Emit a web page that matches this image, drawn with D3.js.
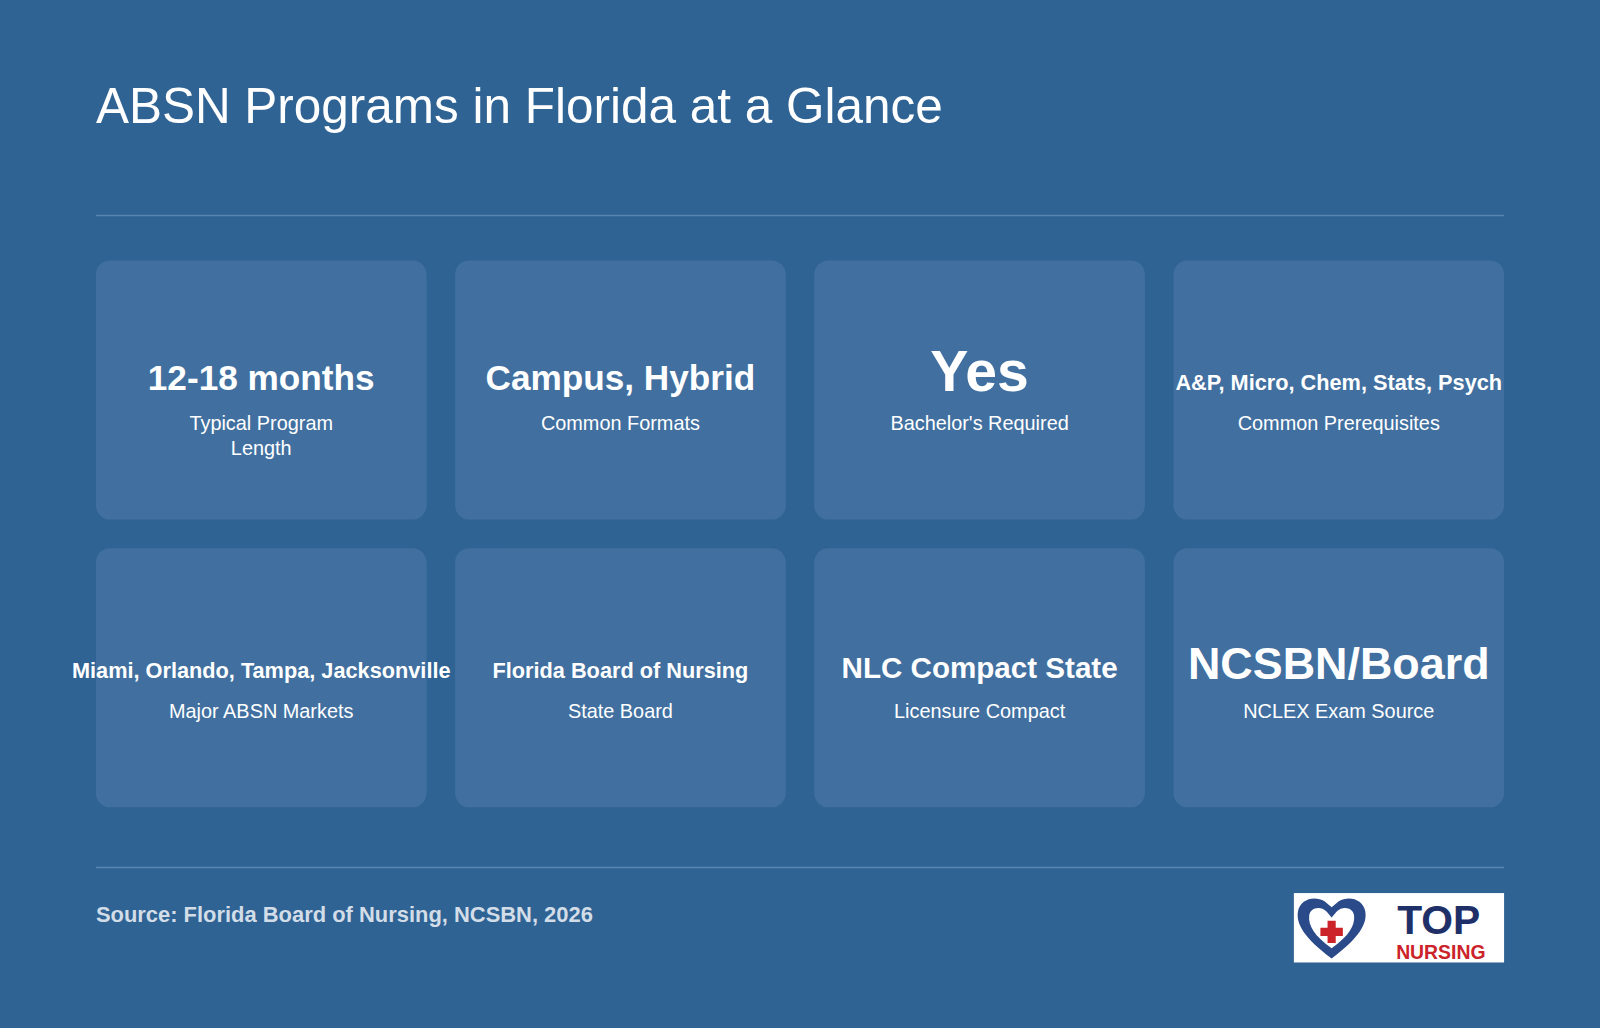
<!DOCTYPE html><html><head><meta charset="utf-8"><script src="https://cdn.jsdelivr.net/npm/d3@7"></script>
<style>body{margin:0;background:#2f6394}svg{display:block}</style></head><body><script>
const values=["12-18 months","Campus, Hybrid","Yes","A&P, Micro, Chem, Stats, Psych","Miami, Orlando, Tampa, Jacksonville","Florida Board of Nursing","NLC Compact State","NCSBN/Board"];
const labels=[["Typical Program","Length"],["Common Formats"],["Bachelor's Required"],["Common Prerequisites"],["Major ABSN Markets"],["State Board"],["Licensure Compact"],["NCLEX Exam Source"]];
const valueSizes=[34.5,34.5,56,21.3,21.3,21.3,29,44];
const W=1568,H=1007;
const svg=d3.select("body").append("svg").attr("width",1600).attr("height",1028).attr("viewBox",`0 0 ${W} ${H}`);
svg.append("rect").attr("width",W).attr("height",H).attr("fill","#2f6394");
const F="Helvetica, Arial, 'Liberation Sans', sans-serif";
svg.append("text").attr("x",94).attr("y",120).attr("fill","#fff").attr("font-family",F).attr("font-size",48.5).text("ABSN Programs in Florida at a Glance");
[211,850].forEach(y=>svg.append("line").attr("x1",94).attr("x2",1474).attr("y1",y).attr("y2",y).attr("stroke","#5a85b0").attr("stroke-width",1.5));
const x=d3.scaleBand().domain(d3.range(4)).range([94,1502]).paddingInner(0);
const cw=324,ch=254;
const rows=[255,537];
const g=svg.selectAll("g.card").data(values).join("g").attr("transform",(d,i)=>`translate(${x(i%4)},${rows[Math.floor(i/4)]})`);
g.append("rect").attr("width",cw).attr("height",ch).attr("rx",14).attr("fill","#4170a0");
g.append("text").attr("x",cw/2).attr("text-anchor","middle").attr("fill","#fff").attr("font-family",F).attr("font-weight","bold").attr("font-size",(d,i)=>valueSizes[i]).text(d=>d)
 .attr("y",(d,i)=>[127,127,128,127,127,127,127,128][i]);
g.each(function(d,i){labels[i].forEach((l,k)=>d3.select(this).append("text").attr("x",cw/2).attr("y",166+k*25).attr("text-anchor","middle").attr("fill","#fff").attr("font-family",F).attr("font-size",19.5).text(l));});
svg.append("text").attr("x",94).attr("y",903).attr("fill","#d3dde8").attr("font-family",F).attr("font-weight","bold").attr("font-size",21.5).text("Source: Florida Board of Nursing, NCSBN, 2026");
const lg=svg.append("g").attr("transform","translate(1268,875)");
lg.append("rect").attr("width",206).attr("height",68).attr("fill","#fff");
lg.append("path").attr("d","M37,64 C10,44 2,30 4,18 C6,6 20,2 30,8 L37,14 L44,8 C54,2 68,6 70,18 C72,30 64,44 37,64 Z M37,54 C20,42 14,32 15,22 C16,14 26,12 32,18 L37,24 L42,18 C48,12 58,14 59,22 C60,32 54,42 37,54 Z").attr("fill","#2a4a8a").attr("fill-rule","evenodd");
lg.append("path").attr("d","M33,27h8v7h7v8h-7v7h-8v-7h-7v-8h7z").attr("fill","#cc2229");
lg.append("text").attr("x",142).attr("y",40).attr("text-anchor","middle").attr("fill","#1f3068").attr("font-family",F).attr("font-weight","bold").attr("font-size",40).text("TOP");
lg.append("text").attr("x",144).attr("y",65).attr("text-anchor","middle").attr("fill","#cc2229").attr("font-family",F).attr("font-weight","bold").attr("font-size",19).text("NURSING");
</script></body></html>
